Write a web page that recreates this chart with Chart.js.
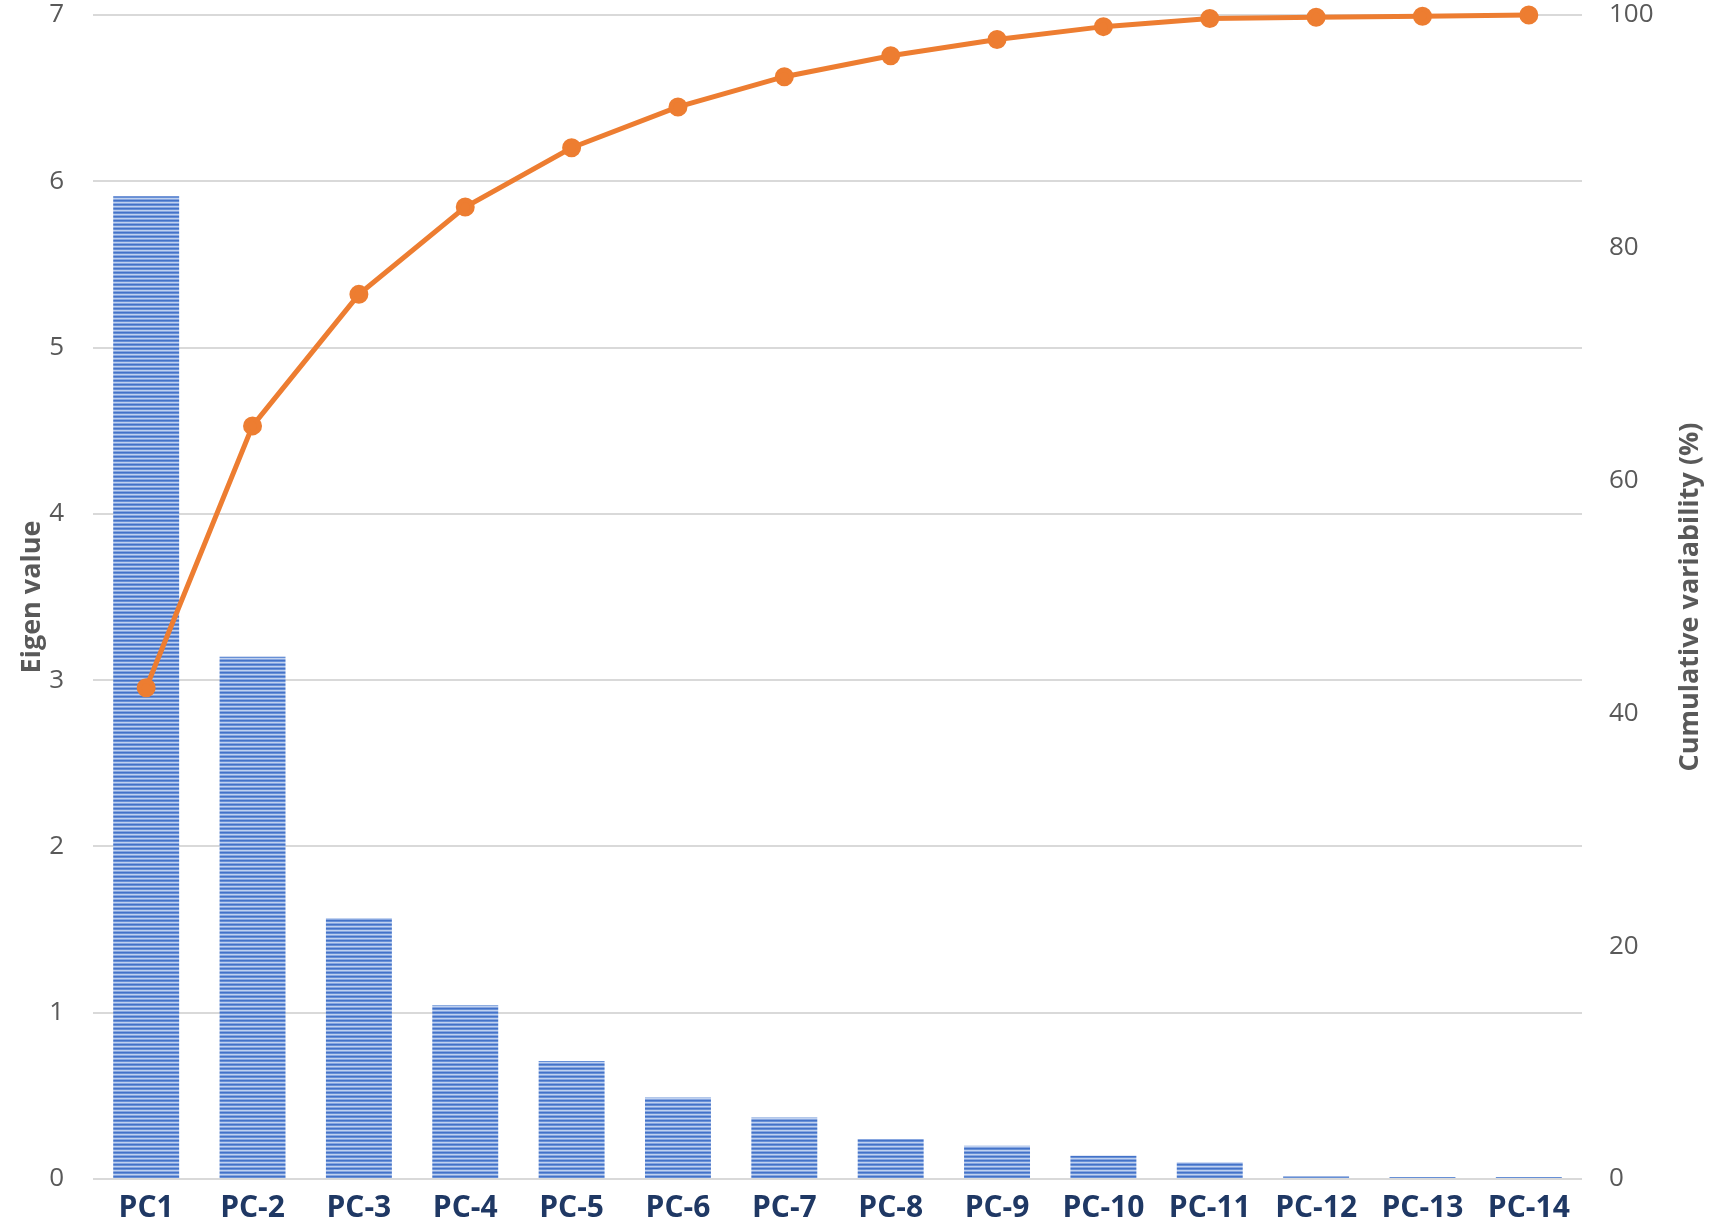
<!DOCTYPE html>
<html>
<head>
<meta charset="utf-8">
<script src="https://cdn.jsdelivr.net/npm/chart.js@4.4.1/dist/chart.umd.min.js"></script>
<style>
  html, body { margin: 0; padding: 0; background: #fff; }
  #wrap { width: 1713px; height: 1222px; }
</style>
</head>
<body>
<div id="wrap"><canvas id="chart" width="1713" height="1222"></canvas></div>
<script>
const labels = ['PC1', 'PC-2', 'PC-3', 'PC-4', 'PC-5', 'PC-6', 'PC-7', 'PC-8', 'PC-9', 'PC-10', 'PC-11', 'PC-12', 'PC-13', 'PC-14'];
const eigenValues = [5.91, 3.14, 1.57, 1.045, 0.71, 0.49, 0.37, 0.24, 0.20, 0.14, 0.10, 0.015, 0.007, 0.006];
const cumulative = [42.2, 64.7, 76.0, 83.5, 88.6, 92.1, 94.7, 96.5, 97.9, 99.0, 99.7, 99.8, 99.9, 100];
const eigenTicks = [0, 1, 2, 3, 4, 5, 6, 7];
const cumTicks = [0, 20, 40, 60, 80, 100];

const FONT = "'Open Sans', sans-serif";
const RIGHT_TITLE = 'Cumulative variability (%)';

// striped fill like the excel bars
function stripes() {
    const c = document.createElement('canvas');
    c.width = 4; c.height = 4;
    const g = c.getContext('2d');
    const rows = ['#4472c8', '#6790d6', '#c0d1ef', '#86a6e0'];
    rows.forEach((col, i) => { g.fillStyle = col; g.fillRect(0, i, 4, 1); });
    return document.getElementById('chart').getContext('2d').createPattern(c, 'repeat');
}

// chart.js turns the right title the other way, so draw it here
const rightTitle = {
    id: 'rightTitle',
    afterDraw(chart) {
        const g = chart.ctx;
        const a = chart.chartArea;
        g.save();
        g.translate(1690, (a.top + a.bottom) / 2);
        g.rotate(-Math.PI / 2);
        g.font = "bold 27px " + FONT;
        g.fillStyle = '#595959';
        g.textAlign = 'center';
        g.textBaseline = 'middle';
        g.fillText(RIGHT_TITLE, 0, 0);
        g.restore();
    }
};

const ctx = document.getElementById('chart').getContext('2d');
new Chart(ctx, {
    data: {
        labels: labels,
        datasets: [{
            type: 'line',
            label: RIGHT_TITLE,
            data: cumulative,
            yAxisID: 'y1',
            borderColor: '#ed7d31',
            backgroundColor: '#ed7d31',
            borderWidth: 5,
            pointRadius: 7,
            pointHoverRadius: 7,
            tension: 0,
            clip: false,
            order: 0
        }, {
            type: 'bar',
            label: 'Eigen value',
            data: eigenValues,
            yAxisID: 'y',
            backgroundColor: stripes(),
            borderWidth: 0,
            minBarLength: 2,
            categoryPercentage: 1,
            barPercentage: 0.62,
            order: 1
        }]
    },
    options: {
        responsive: false,
        animation: false,
        layout: { padding: { top: 15, left: 0, right: 0, bottom: 0 } },
        plugins: {
            legend: { display: false },
            tooltip: { enabled: false }
        },
        scales: {
            x: {
                grid: { display: false, drawTicks: false },
                border: { display: false },
                ticks: {
                    color: '#1f3864',
                    font: { family: FONT, size: 30, weight: 'bold' },
                    padding: 11,
                    maxRotation: 0,
                    autoSkip: false
                },
                afterFit(s) { s.height = 43; s.paddingLeft = 0; s.paddingRight = 0; }
            },
            y: {
                position: 'left',
                min: 0,
                max: 7,
                afterBuildTicks(s) { s.ticks = eigenTicks.map(v => ({ value: v })); },
                grid: { color: '#d9d9d9', lineWidth: 2, drawTicks: false },
                border: { display: false },
                ticks: { color: '#595959', font: { family: FONT, size: 26 }, padding: 29 },
                title: {
                    display: true,
                    text: 'Eigen value',
                    color: '#595959',
                    font: { family: FONT, size: 27, weight: 'bold' },
                    padding: { top: 16, bottom: 0 }
                },
                afterFit(s) { s.width = 93; s.paddingTop = 0; s.paddingBottom = 0; }
            },
            y1: {
                position: 'right',
                min: 0,
                max: 100,
                afterBuildTicks(s) { s.ticks = cumTicks.map(v => ({ value: v })); },
                grid: { display: false, drawTicks: false },
                border: { display: false },
                ticks: { color: '#595959', font: { family: FONT, size: 26 }, padding: 27 },
                afterFit(s) { s.width = 131; s.paddingTop = 0; s.paddingBottom = 0; }
            }
        }
    },
    plugins: [rightTitle]
});
</script>
</body>
</html>
